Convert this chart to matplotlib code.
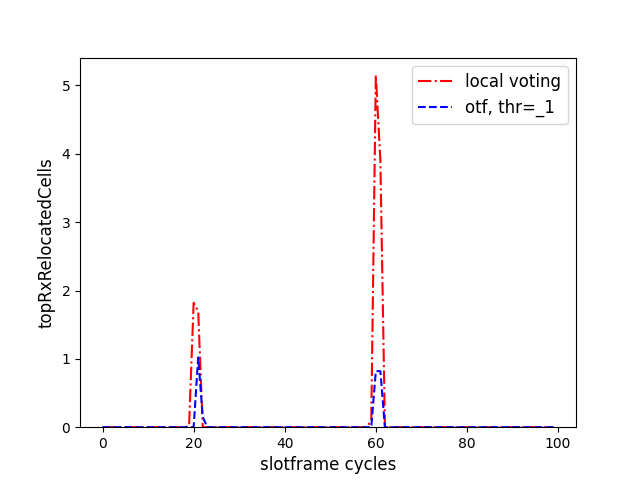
import numpy as np
import matplotlib

matplotlib.use("Agg")
from matplotlib import pyplot as plt

cycles = np.arange(100)
local_voting = np.zeros(100)
local_voting[19] = 0.02
local_voting[20] = 1.82
local_voting[21] = 1.7
local_voting[59] = 0.1
local_voting[60] = 5.15
local_voting[61] = 3.9
otf = np.zeros(100)
otf[21] = 1.02
otf[22] = 0.15
otf[60] = 0.82
otf[61] = 0.82

fig, ax = plt.subplots(figsize=(6.4, 4.8), dpi=100)
ax.plot(cycles, local_voting, "r-.", label="local voting")
ax.plot(cycles, otf, "b--", label="otf, thr=_1")
ax.set_ylim(0, None)
ax.set_xlabel("slotframe cycles", fontsize=12)
ax.set_ylabel("topRxRelocatedCells", fontsize=12)
ax.legend(loc="upper right", fontsize=12)
plt.savefig("out.png")
